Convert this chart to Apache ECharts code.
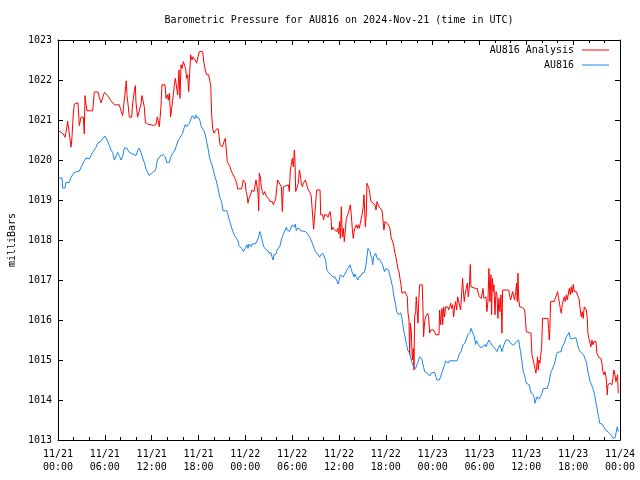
<!DOCTYPE html>
<html><head><meta charset="utf-8">
<script src="https://cdn.jsdelivr.net/npm/echarts@6/dist/echarts.min.js"></script>
<style>html,body{margin:0;padding:0;background:#fff}#c{width:640px;height:480px}</style>
</head><body><div id="c"></div>
<script>
const chartTitle = 'Barometric Pressure for AU816 on 2024-Nov-21 (time in UTC)';
const yAxisName = 'milliBars';
const seriesNames = ['AU816 Analysis', 'AU816'];
const seriesColors = ['#ff0000', '#1a84ee'];
// hours since 2024-11-21 00:00 UTC
const xTickLabels = ['11/21\n00:00','11/21\n06:00','11/21\n12:00','11/21\n18:00','11/22\n00:00','11/22\n06:00','11/22\n12:00','11/22\n18:00','11/23\n00:00','11/23\n06:00','11/23\n12:00','11/23\n18:00','11/24\n00:00'];
const xMin = 0, xMax = 72, xStep = 6;
const yMin = 1013, yMax = 1023, yStep = 1;

// [hour, millibars]
const analysisData = [
[0.08,1020.73],[0.38,1020.69],[0.68,1020.65],[0.90,1020.57],[1.02,1020.69],[1.24,1020.97],[1.45,1020.98],[1.67,1020.32],[1.79,1020.57],[1.96,1021.15],[2.09,1021.40],[2.56,1021.43],[2.73,1020.86],[2.95,1021.07],[3.25,1021.07],[3.37,1020.65],[3.46,1021.61],[3.59,1021.40],[3.71,1021.23],[4.44,1021.23],[4.65,1021.70],[5.12,1021.70],[5.29,1021.57],[5.51,1021.43],[5.72,1021.48],[5.94,1021.69],[6.36,1021.61],[6.58,1021.57],[6.79,1021.48],[7.00,1021.44],[7.22,1021.38],[7.86,1021.38],[8.07,1021.23],[8.28,1021.11],[8.50,1021.09],[8.62,1021.73],[8.75,1021.98],[8.84,1021.61],[8.97,1021.40],[9.14,1021.07],[9.44,1021.07],[9.56,1021.40],[9.78,1021.73],[9.91,1021.86],[9.99,1021.44],[10.20,1021.07],[10.42,1021.07],[10.63,1021.40],[10.76,1021.61],[10.93,1021.61],[11.06,1021.32],[11.19,1020.94],[11.49,1020.90],[11.91,1020.88],[12.21,1020.86],
[12.55,1020.89],[12.73,1021.08],[12.85,1021.13],[12.98,1020.83],[13.07,1020.79],[13.19,1021.33],[13.32,1021.88],[13.71,1021.88],[13.84,1021.54],[14.01,1021.63],[14.13,1021.50],[14.26,1021.67],[14.43,1021.08],[14.65,1021.08],[14.78,1021.63],[14.90,1021.88],[15.03,1022.04],[15.20,1022.08],[15.33,1021.63],[15.50,1022.25],[15.63,1021.54],[15.76,1022.38],[15.89,1022.29],[16.06,1022.46],[16.18,1022.50],[16.35,1022.29],[16.48,1022.04],[16.61,1022.13],[16.74,1021.71],[16.87,1022.17],[16.99,1022.63],[17.17,1022.50],[17.29,1022.58],[17.46,1022.54],[17.59,1022.50],[17.76,1022.42],[17.94,1022.58],[18.11,1022.71],[18.53,1022.71],[18.70,1022.42],[18.87,1022.25],[19.04,1022.13],[19.30,1022.13],[19.43,1022.00],[19.56,1021.88],[19.69,1021.13],[19.81,1020.79],[19.98,1020.67],[20.15,1020.73],[20.33,1020.75],[20.50,1020.79],[20.62,1020.63],[20.75,1020.38],[21.05,1020.33],[21.27,1020.46],[21.44,1020.54],[21.56,1020.50],[21.69,1019.96],[21.86,1019.92],[22.03,1019.83],[22.16,1019.75],[22.33,1019.67],[22.55,1019.63],[22.67,1019.54],[22.89,1019.42],[23.02,1019.28],[23.53,1019.28],[23.74,1019.50],[23.87,1019.46],[24.00,1019.42],
[24.09,1019.21],[24.21,1019.13],[24.34,1018.92],[24.47,1019.04],[24.60,1019.00],[24.73,1019.17],[24.85,1019.25],[25.11,1019.21],[25.24,1019.25],[25.37,1019.50],[25.50,1019.46],[25.62,1019.17],[25.71,1018.73],[25.79,1019.67],[25.92,1019.58],[26.05,1019.33],[26.18,1019.21],[26.31,1019.13],[26.48,1019.21],[26.61,1019.17],[26.73,1019.08],[26.90,1019.07],[27.03,1019.02],[27.16,1018.96],[27.33,1018.92],[27.46,1018.96],[27.59,1018.88],[27.76,1018.96],[27.89,1019.04],[28.01,1019.08],[28.14,1019.50],[28.61,1019.33],[28.74,1018.71],[28.87,1019.33],[29.04,1019.38],[29.51,1019.38],[29.64,1019.21],[29.77,1019.75],[29.89,1019.88],[30.02,1020.04],[30.15,1019.83],[30.28,1020.25],[30.36,1020.00],[30.45,1019.21],[30.66,1019.21],[30.79,1019.42],[30.92,1019.75],[31.05,1019.63],[31.17,1019.42],[31.30,1019.33],[31.43,1019.42],[31.56,1019.38],[31.69,1019.50],[31.81,1019.46],[31.94,1019.33],[32.07,1019.25],[32.20,1019.21],[32.33,1019.17],[32.45,1019.08],[32.63,1019.04],[32.75,1018.27],[32.97,1018.27],[33.14,1019.25],[33.57,1019.25],[33.65,1018.63],[33.91,1018.63],[34.03,1018.50],[34.16,1018.63],[34.29,1018.58],[34.42,1018.63],[34.59,1018.57],[34.85,1018.71],[34.97,1018.57],[35.06,1018.25],[35.19,1018.32],[35.32,1018.32],[35.44,1018.25],[35.57,1018.29],[35.70,1018.21],[35.83,1018.29],[35.96,1018.15],[36.08,1018.46],[36.17,1018.04],
[36.30,1018.83],[36.43,1018.08],[36.55,1018.29],[36.68,1017.96],[36.81,1017.92],[36.94,1018.54],[37.19,1018.67],[37.32,1018.63],[37.45,1018.88],[37.58,1018.63],[37.71,1018.25],[37.83,1018.04],[37.96,1018.25],[38.09,1018.29],[38.22,1018.38],[38.35,1018.29],[38.47,1018.38],[38.60,1018.29],[38.73,1018.42],[38.86,1018.38],[38.99,1018.67],[39.11,1018.83],[39.20,1019.13],[39.29,1018.75],[39.37,1018.33],[39.50,1018.67],[39.58,1019.42],[39.71,1019.46],[39.84,1019.29],[39.97,1019.13],[40.10,1018.96],[40.35,1018.92],[40.61,1018.88],[40.74,1018.75],[40.87,1018.96],[40.99,1018.92],[41.12,1018.83],[41.25,1018.79],[41.51,1018.75],[41.63,1018.75],[41.76,1018.25],[41.89,1018.46],[42.15,1018.42],[42.27,1018.46],[42.40,1018.35],[42.53,1018.29],[42.66,1018.08],[42.79,1018.00],[42.92,1017.93],[43.04,1017.83],[43.17,1017.67],[43.30,1017.57],[43.43,1017.42],[43.56,1017.27],[43.68,1017.21],[43.81,1017.04],[43.94,1016.88],[44.07,1016.67],[44.20,1016.63],[44.32,1016.67],[44.45,1016.71],[44.62,1016.75],[44.75,1016.58],[44.84,1016.17],[44.97,1016.00],[45.05,1015.13],[45.14,1015.92],[45.26,1015.75],[45.39,1015.00],[45.52,1015.29],[45.61,1014.75],[45.69,1016.08],[45.82,1016.21],[45.90,1016.58],[46.03,1016.58],[46.12,1015.92],[46.20,1016.42],[46.33,1016.88],[46.67,1016.88],[46.76,1016.25],[46.84,1015.58],[46.97,1015.96],[47.10,1016.08],[47.23,1016.13],[47.36,1016.17],[47.48,1016.08],[47.61,1015.67],[47.74,1015.75],[47.91,1015.77],
[48.12,1015.75],[48.25,1015.71],[48.42,1015.63],[48.55,1015.67],[48.81,1015.63],[48.89,1016.25],[49.02,1015.88],[49.11,1016.13],[49.19,1016.29],[49.28,1015.88],[49.40,1016.33],[49.53,1016.08],[49.66,1016.33],[49.92,1016.33],[50.04,1016.25],[50.17,1016.33],[50.30,1016.42],[50.43,1016.29],[50.56,1016.38],[50.69,1016.08],[50.81,1016.33],[50.94,1016.46],[51.07,1016.25],[51.20,1016.58],[51.33,1016.54],[51.45,1016.58],[51.58,1016.25],[51.71,1016.67],[51.84,1017.04],[51.92,1016.75],[52.05,1016.46],[52.18,1016.67],[52.31,1016.71],[52.44,1016.92],[52.56,1016.58],[52.69,1016.79],[52.82,1017.39],[52.91,1016.83],[53.46,1016.79],[53.59,1016.75],[53.72,1016.79],[53.84,1016.67],[53.97,1016.58],[54.10,1016.63],[54.23,1016.54],[54.36,1016.58],[54.44,1016.79],[54.57,1016.54],[54.83,1016.58],[54.95,1016.21],[55.08,1016.46],[55.21,1017.29],[55.34,1016.46],[55.47,1017.13],[55.55,1016.13],[55.64,1017.04],[55.77,1016.71],[55.85,1016.88],[55.98,1016.13],[56.11,1016.71],[56.24,1016.63],[56.36,1016.04],[56.49,1016.54],[56.62,1016.21],[56.75,1016.63],[56.88,1015.67],[56.96,1016.75],[57.73,1016.75],[57.86,1016.71],[57.99,1016.50],[58.11,1016.54],[58.24,1016.71],[58.37,1016.67],[58.50,1016.50],[58.63,1016.71],[58.76,1016.92],[58.84,1016.46],[58.93,1017.17],[59.01,1016.58],[59.14,1016.33],[59.52,1016.31],[59.78,1016.25],[59.91,1015.96],[59.99,1015.71],
[60.16,1015.71],[60.59,1015.67],[60.72,1015.13],[60.85,1015.17],[60.97,1014.92],[61.10,1014.79],[61.23,1014.67],[61.32,1014.83],[61.44,1015.08],[61.53,1014.75],[61.62,1015.00],[61.74,1014.92],[61.83,1015.08],[61.96,1015.33],[62.08,1016.04],[62.77,1016.04],[62.85,1015.79],[62.94,1015.50],[63.02,1015.79],[63.11,1016.46],[63.58,1016.46],[63.71,1016.54],[63.88,1016.58],[64.01,1016.71],[64.13,1016.54],[64.22,1016.46],[64.35,1016.29],[64.48,1016.17],[64.60,1016.38],[64.73,1016.33],[64.86,1016.58],[64.99,1016.46],[65.12,1016.63],[65.24,1016.50],[65.37,1016.54],[65.50,1016.79],[65.63,1016.63],[65.76,1016.83],[65.88,1016.67],[66.01,1016.89],[66.14,1016.71],[66.27,1016.75],[66.40,1016.71],[66.53,1016.75],[66.65,1016.58],[66.78,1016.50],[66.91,1016.25],[67.04,1016.08],[67.17,1016.21],[67.29,1016.04],[67.42,1016.33],[67.55,1016.38],[67.68,1016.25],[67.81,1016.04],[67.89,1015.67],[68.02,1015.54],[68.15,1015.42],[68.28,1015.33],[68.40,1015.50],[68.53,1015.38],[68.66,1015.46],[68.92,1015.46],[69.04,1015.17],[69.17,1015.13],[69.30,1015.06],[69.43,1015.03],[69.56,1015.04],[69.69,1014.92],[69.81,1014.71],[69.94,1014.63],[70.07,1014.71],[70.20,1014.58],[70.28,1014.42],[70.37,1014.13],[70.45,1014.38],[70.71,1014.42],[70.97,1014.38],[71.09,1014.54],[71.22,1014.75],[71.35,1014.63],[71.48,1014.46],[71.61,1014.42],[71.69,1014.63],[71.78,1014.17]
];

const au816Data = [
[0.09,1019.55],[0.51,1019.55],[0.60,1019.30],[0.90,1019.30],[1.02,1019.44],[1.45,1019.44],[1.67,1019.57],[2.09,1019.69],[2.73,1019.72],[2.95,1019.82],[3.16,1019.90],[3.37,1019.98],[3.59,1020.05],[3.80,1020.08],[4.01,1020.03],[4.23,1020.11],[4.44,1020.19],[4.65,1020.23],[4.87,1020.32],[5.08,1020.42],[5.51,1020.47],[5.72,1020.53],[6.02,1020.60],[6.36,1020.47],[6.58,1020.36],[6.79,1020.25],[7.00,1020.19],[7.22,1020.00],[7.43,1019.98],[7.64,1020.19],[7.86,1020.11],[8.07,1020.00],[8.28,1020.08],[8.50,1020.30],[8.80,1020.30],[9.14,1020.19],[9.35,1020.22],[9.56,1020.15],[9.78,1020.19],[9.99,1020.11],[10.20,1020.23],[10.42,1020.30],[10.63,1020.19],[10.85,1020.05],[11.06,1019.94],[11.27,1019.78],[11.49,1019.73],[11.70,1019.61],[11.91,1019.58],[12.13,1019.69],
[12.21,1019.71],[12.43,1019.73],[12.55,1019.79],[12.73,1020.00],[12.94,1020.04],[13.15,1020.11],[13.49,1020.13],[13.75,1020.08],[13.92,1019.94],[14.26,1019.94],[14.43,1020.06],[14.60,1020.13],[14.78,1020.19],[14.99,1020.25],[15.20,1020.38],[15.42,1020.50],[15.63,1020.56],[15.84,1020.61],[15.97,1020.67],[16.14,1020.79],[16.31,1020.89],[16.48,1020.83],[16.65,1020.88],[16.82,1020.92],[16.99,1021.00],[17.21,1021.11],[17.38,1021.08],[17.51,1021.03],[17.64,1021.13],[17.76,1021.06],[17.89,1021.11],[18.02,1021.06],[18.19,1020.98],[18.36,1020.83],[18.53,1020.79],[18.70,1020.73],[18.87,1020.63],[19.04,1020.46],[19.22,1020.29],[19.39,1020.08],[19.56,1019.96],[19.73,1019.88],[19.90,1019.75],[20.11,1019.58],[20.28,1019.48],[20.45,1019.33],[20.62,1019.17],[20.79,1019.04],[20.97,1018.94],[21.14,1018.73],[21.61,1018.73],[21.73,1018.67],[21.86,1018.54],[22.03,1018.46],[22.20,1018.33],[22.38,1018.23],[22.55,1018.14],[22.72,1018.08],[22.89,1018.04],[23.06,1017.98],[23.19,1017.86],[23.36,1017.81],[23.57,1017.78],[23.74,1017.71],[23.95,1017.78],
[24.09,1017.83],[24.21,1017.88],[24.34,1017.79],[24.47,1017.90],[24.60,1017.85],[24.73,1017.83],[24.85,1017.90],[25.11,1017.90],[25.37,1017.92],[25.54,1017.96],[25.71,1018.08],[25.84,1018.21],[25.96,1018.15],[26.09,1018.04],[26.22,1017.93],[26.35,1017.83],[26.48,1017.82],[26.61,1017.77],[26.73,1017.79],[26.90,1017.73],[27.03,1017.67],[27.16,1017.63],[27.29,1017.68],[27.42,1017.58],[27.55,1017.50],[27.67,1017.63],[27.80,1017.58],[27.93,1017.65],[28.06,1017.75],[28.19,1017.79],[28.31,1017.75],[28.44,1017.85],[28.61,1018.00],[28.74,1018.08],[28.87,1018.15],[29.00,1018.17],[29.12,1018.25],[29.25,1018.32],[29.38,1018.25],[29.51,1018.29],[29.64,1018.21],[29.77,1018.27],[29.89,1018.32],[30.02,1018.38],[30.15,1018.43],[30.28,1018.32],[30.41,1018.40],[30.53,1018.23],[30.66,1018.29],[30.92,1018.29],[31.09,1018.23],[31.73,1018.21],[31.94,1018.17],[32.16,1018.10],[32.33,1018.04],[32.45,1018.00],[32.58,1017.92],[32.71,1017.85],[32.84,1017.79],[32.97,1017.71],[33.14,1017.67],[33.27,1017.65],[33.39,1017.67],[33.52,1017.57],[33.65,1017.63],[33.78,1017.60],[33.91,1017.67],[34.03,1017.71],[34.16,1017.67],[34.29,1017.50],[34.42,1017.27],[34.59,1017.21],[34.76,1017.18],[34.93,1017.13],[35.23,1017.08],[35.53,1017.07],[35.66,1017.00],[35.79,1016.98],[35.91,1016.90],[36.04,1017.02],[36.17,1017.13],[36.30,1017.18],
[36.38,1017.10],[36.51,1017.07],[36.64,1017.04],[36.77,1017.15],[36.89,1017.21],[37.02,1017.25],[37.15,1017.29],[37.28,1017.33],[37.41,1017.38],[37.54,1017.29],[37.66,1017.21],[37.79,1017.15],[37.92,1017.08],[38.05,1017.15],[38.18,1017.08],[38.30,1017.04],[38.43,1017.00],[38.56,1017.08],[38.82,1017.10],[38.94,1017.17],[39.07,1017.21],[39.20,1017.18],[39.33,1017.25],[39.46,1017.38],[39.58,1017.58],[39.71,1017.79],[39.84,1017.75],[39.97,1017.71],[40.10,1017.60],[40.23,1017.54],[40.31,1017.38],[40.44,1017.58],[40.57,1017.63],[40.70,1017.67],[40.82,1017.58],[40.95,1017.52],[41.08,1017.57],[41.21,1017.52],[41.34,1017.46],[41.46,1017.50],[41.59,1017.38],[41.72,1017.27],[41.85,1017.21],[41.98,1017.29],[42.10,1017.25],[42.36,1017.25],[42.49,1017.13],[42.62,1017.04],[42.74,1016.92],[42.87,1016.83],[43.00,1016.63],[43.13,1016.50],[43.26,1016.38],[43.38,1016.21],[43.51,1016.17],[43.64,1016.13],[43.77,1016.18],[43.90,1016.18],[44.03,1016.08],[44.15,1015.92],[44.28,1015.75],[44.41,1015.63],[44.54,1015.50],[44.67,1015.38],[44.79,1015.25],[44.92,1015.21],[45.05,1015.17],[45.18,1015.04],[45.31,1014.96],[45.43,1014.92],[45.56,1014.83],[45.69,1014.83],[45.82,1014.79],[45.95,1014.83],[46.07,1014.93],[46.20,1015.00],[46.33,1015.08],[46.46,1015.08],[46.59,1015.04],[46.72,1014.92],[46.84,1014.82],[46.97,1014.71],[47.23,1014.68],[47.36,1014.67],[47.48,1014.65],[47.61,1014.60],[47.74,1014.65],[47.87,1014.68],
[48.25,1014.69],[48.42,1014.58],[48.55,1014.50],[48.85,1014.50],[49.02,1014.58],[49.19,1014.69],[49.40,1014.71],[49.53,1014.88],[49.66,1014.98],[49.83,1014.98],[49.96,1014.92],[50.13,1014.98],[51.11,1014.98],[51.24,1015.04],[51.37,1015.13],[51.50,1015.14],[51.62,1015.21],[51.75,1015.29],[51.88,1015.38],[52.01,1015.39],[52.14,1015.42],[52.27,1015.50],[52.39,1015.53],[52.52,1015.63],[52.65,1015.63],[52.78,1015.69],[52.91,1015.79],[53.03,1015.75],[53.16,1015.67],[53.29,1015.61],[53.42,1015.50],[53.50,1015.39],[53.63,1015.48],[53.76,1015.44],[53.89,1015.38],[54.14,1015.31],[54.31,1015.31],[54.44,1015.33],[54.57,1015.38],[54.70,1015.39],[54.83,1015.33],[54.96,1015.39],[55.08,1015.44],[55.21,1015.50],[55.34,1015.48],[55.47,1015.42],[55.60,1015.36],[55.72,1015.31],[55.85,1015.33],[55.98,1015.29],[56.11,1015.25],[56.24,1015.21],[56.36,1015.28],[56.49,1015.25],[56.62,1015.38],[56.75,1015.33],[56.88,1015.21],[57.00,1015.29],[57.13,1015.38],[57.26,1015.33],[57.39,1015.50],[57.73,1015.50],[57.86,1015.48],[57.99,1015.42],[58.11,1015.44],[58.24,1015.42],[58.37,1015.36],[58.50,1015.39],[58.63,1015.44],[58.76,1015.48],[58.88,1015.44],[59.01,1015.50],[59.10,1015.39],[59.18,1015.29],[59.27,1015.21],[59.35,1015.08],[59.44,1014.96],[59.52,1014.83],[59.61,1014.71],[59.74,1014.63],[59.87,1014.54],[59.99,1014.42],[60.12,1014.39],
[60.38,1014.38],[60.50,1014.25],[60.63,1014.17],[60.76,1014.19],[60.89,1014.13],[61.02,1014.04],[61.10,1013.92],[61.23,1014.00],[61.36,1014.08],[61.53,1014.06],[61.66,1014.03],[61.79,1014.08],[61.91,1014.13],[62.04,1014.19],[62.17,1014.29],[62.68,1014.29],[62.81,1014.38],[62.94,1014.46],[63.07,1014.63],[63.20,1014.71],[63.32,1014.75],[63.45,1014.83],[63.58,1014.89],[63.71,1014.98],[63.84,1015.13],[63.96,1015.19],[64.48,1015.21],[64.60,1015.33],[64.73,1015.38],[64.86,1015.42],[64.99,1015.50],[65.12,1015.58],[65.37,1015.63],[65.50,1015.69],[65.63,1015.54],[65.93,1015.53],[66.06,1015.54],[66.18,1015.58],[66.31,1015.56],[66.44,1015.50],[66.57,1015.38],[66.70,1015.29],[66.82,1015.23],[66.95,1015.19],[67.08,1015.17],[67.21,1015.14],[67.34,1015.13],[67.47,1015.11],[67.59,1015.00],[67.72,1014.92],[67.85,1014.75],[67.98,1014.64],[68.11,1014.50],[68.23,1014.44],[68.36,1014.38],[68.49,1014.31],[68.62,1014.23],[68.75,1014.13],[68.87,1013.98],[69.00,1013.86],[69.13,1013.71],[69.26,1013.58],[69.39,1013.42],[69.77,1013.39],[69.90,1013.33],[70.03,1013.29],[70.16,1013.25],[70.28,1013.21],[70.41,1013.25],[70.54,1013.19],[70.71,1013.19],[70.84,1013.13],[70.97,1013.08],[71.09,1013.04],[71.27,1013.03],[71.39,1013.06],[71.48,1013.17],[71.56,1013.21],[71.65,1013.33],[71.69,1013.38],[71.78,1013.21]
];

const FONT = 'DejaVu Sans Mono';
const black = '#000';
const chart = echarts.init(document.getElementById('c'), null, {renderer: 'canvas'});

function xAxisDef(pos, showLabel) {
  return {
    type: 'value', position: pos, min: xMin, max: xMax, interval: xStep,
    axisLine: {show: true, onZero: false, lineStyle: {color: black, width: 1}},
    axisTick: {show: true, inside: true, length: 5, lineStyle: {color: black}},
    minorTick: {show: true, splitNumber: 3, length: 3, lineStyle: {color: black}},
    splitLine: {show: false},
    axisLabel: {show: showLabel, color: black, fontFamily: FONT, fontSize: 10, lineHeight: 13, margin: 8,
      formatter: v => xTickLabels[Math.round((v - xMin) / xStep)] || ''}
  };
}
function yAxisDef(pos, showLabel) {
  const a = {
    type: 'value', position: pos, min: yMin, max: yMax, interval: yStep,
    axisLine: {show: true, onZero: false, lineStyle: {color: black, width: 1}},
    axisTick: {show: true, inside: true, length: 5, lineStyle: {color: black}},
    splitLine: {show: false},
    axisLabel: {show: showLabel, color: black, fontFamily: FONT, fontSize: 10, margin: 6,
      formatter: v => String(v)}
  };
  if (showLabel) {
    a.name = yAxisName; a.nameLocation = 'middle'; a.nameGap = 40; a.nameRotate = 90;
    a.nameTextStyle = {color: black, fontFamily: FONT, fontSize: 10};
  }
  return a;
}

chart.setOption({
  animation: false,
  backgroundColor: '#fff',
  title: {text: chartTitle, left: 334, top: 10, textAlign: 'center',
    textStyle: {fontFamily: FONT, fontSize: 10, fontWeight: 'normal', color: black}},
  legend: {orient: 'vertical', right: 26, top: 40, align: 'right',
    itemWidth: 27, itemHeight: 10, itemGap: 5,
    data: seriesNames.map(n => ({name: n, icon: 'path://M0,4.5H27V5.5H0Z'})),
    textStyle: {fontFamily: FONT, fontSize: 10, color: black, padding: [0, 3, 0, 0]}},
  grid: {left: 58, right: 20, top: 40, bottom: 40, containLabel: false, outerBoundsMode: 'none'},
  xAxis: [xAxisDef('bottom', true), xAxisDef('top', false)],
  yAxis: [yAxisDef('left', true), yAxisDef('right', false)],
  series: [
    {name: seriesNames[0], type: 'line', data: analysisData, xAxisIndex: 0, yAxisIndex: 0,
      symbol: 'none', color: seriesColors[0], lineStyle: {width: 1, color: seriesColors[0]}},
    {name: seriesNames[1], type: 'line', data: au816Data, xAxisIndex: 0, yAxisIndex: 0,
      symbol: 'none', color: seriesColors[1], lineStyle: {width: 1, color: seriesColors[1]}}
  ]
});
</script></body></html>
